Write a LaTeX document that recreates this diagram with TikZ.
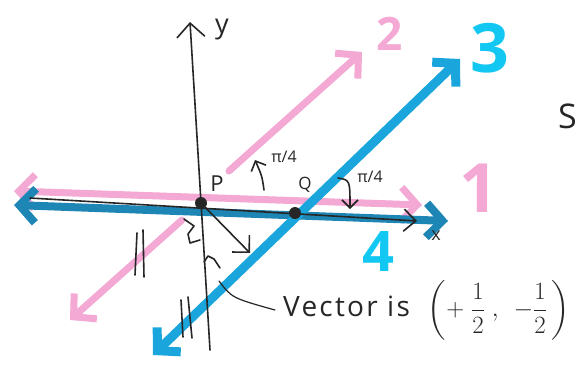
\documentclass[tikz,border=0pt]{standalone}
\usepackage{amsmath}
\usepackage{fontspec}
\setmainfont{Open Sans}
\usetikzlibrary{arrows.meta}
\definecolor{pinkl}{HTML}{F4A8D4}
\definecolor{bluel}{HTML}{1AA6DC}
\definecolor{bluedk}{HTML}{1E86B4}
\definecolor{bluelab}{HTML}{12C8F2}
\definecolor{inkc}{HTML}{262626}
\tikzset{
  pinkln/.style={line width=7pt,pinkl,line cap=round},
  blueln/.style={line width=9pt,bluel,line cap=round},
  inkln/.style={line width=1.6pt,inkc,line cap=round,line join=round},
  barb/.style={-{Straight Barb[length=16pt,width=34pt]}},
  dbarb/.style={{Straight Barb[length=16pt,width=34pt]}-{Straight Barb[length=16pt,width=34pt]}},
  inkbarb/.style={-{Straight Barb[length=8pt,width=16pt]}},
  dotpt/.style={circle,fill=inkc,inner sep=0pt,minimum size=12pt},
  numlab/.style={inner sep=0pt,font=\bfseries\fontsize{68}{68}\selectfont},
  lab/.style={inkc,inner sep=0pt,font=\fontsize{20}{22}\selectfont}
}
\begin{document}
\begin{tikzpicture}[x=1pt,y=-1pt]
\useasboundingbox (0,0) rectangle (579,368);
% end points of the lines
\coordinate (P) at (201,203);
\coordinate (Q) at (295,213);
\coordinate (oneL) at (14,191);   \coordinate (oneR) at (422,205);
\coordinate (fourL) at (14,205);  \coordinate (fourR) at (448,221);
\coordinate (twoL) at (70,320);   \coordinate (twoM) at (182,220);
\coordinate (twoN) at (229,171);  \coordinate (twoR) at (362,52);
\coordinate (threeL) at (153,355); \coordinate (threeR) at (460,59);
\coordinate (xL) at (30,198);     \coordinate (xR) at (417,221);
\coordinate (yB) at (210,350);    \coordinate (yT) at (190,22);
% coloured lines
\draw[pinkln,dbarb] (oneL) -- (oneR);
\draw[pinkln,{Straight Barb[length=16pt,width=34pt]}-] (twoL) -- (twoM);
\draw[pinkln,barb] (twoN) -- (twoR);
\draw[line width=8pt,bluedk,line cap=round,dbarb] (fourL) -- (fourR);
\draw[blueln,dbarb] (threeL) -- (threeR);
% axes
\draw[inkln,-{Straight Barb[length=12pt,width=22pt]}] (xL) -- (xR);
\draw[inkln,-{Straight Barb[length=14pt,width=28pt]}] (yB) -- (yT);
\node[lab,font=\fontsize{27}{28}\selectfont] (ylab) at (222,30) {y};
\node[lab,font=\fontsize{18}{18}\selectfont] (xlab) at (436,236) {x};
% points
\node[dotpt] (Pdot) at (P) {};
\node[dotpt] (Qdot) at (Q) {};
\node[lab,font=\fontsize{22}{22}\selectfont] (Plab) at (217,184) {P};
\node[lab,font=\fontsize{17}{17}\selectfont] (Qlab) at (305,185) {Q};
% angle arrows
\coordinate (a1s) at (264,190); \coordinate (a1e) at (255,160);
\draw[inkln,inkbarb] (a1s) .. controls (262,176) .. (a1e);
\node[lab,font=\fontsize{16}{16}\selectfont] (ang1) at (284,157) {π/4};
\coordinate (a2s) at (338,178); \coordinate (a2e) at (350,209);
\draw[inkln,inkbarb] (a2s) .. controls (350,180) .. (a2e);
\node[lab,font=\fontsize{16}{16}\selectfont] (ang2) at (370,177) {π/4};
% vector from P
\coordinate (vtip) at (250,253);
\draw[inkln,-{Straight Barb[length=12pt,width=24pt]}] (Pdot) -- (vtip);
% hand marks under P
\draw[inkln] (184,219) -- (194,226) -- (188,234) -- (190,243) -- (200,240);
\draw[inkln] (204,262) -- (208,256) -- (214,259) -- (220,268);
\draw[inkln] (137,233) -- (135,275) (143,230) -- (144,277);
\draw[inkln] (181,300) -- (183,337) (188,297) -- (192,338);
% note
\coordinate (nstart) at (219,281);
\node[lab,anchor=west,font=\fontsize{28}{30}\selectfont\addfontfeature{LetterSpace=8}] (note) at (283,310)
  {Vector is\hspace{18pt}$\left(+\;\dfrac{1}{2}\;,\;\,-\dfrac{1}{2}\,\right)$};
\draw[inkln,line width=1.2pt] (nstart) .. controls (232,298) .. ([xshift=-8pt]note.west);
% number labels
\node[numlab,pinkl] (n1) at (479,188) {1};
\node[numlab,pinkl,font=\bfseries\fontsize{46}{46}\selectfont] (n2) at (390,34) {2};
\node[numlab,bluelab] (n3) at (490,48) {3};
\node[numlab,bluelab,font=\bfseries\fontsize{56}{56}\selectfont] (n4) at (378,252) {4};
\node[lab,anchor=west,font=\fontsize{34}{34}\selectfont] (slab) at (558,116) {S};
\end{tikzpicture}
\end{document}
